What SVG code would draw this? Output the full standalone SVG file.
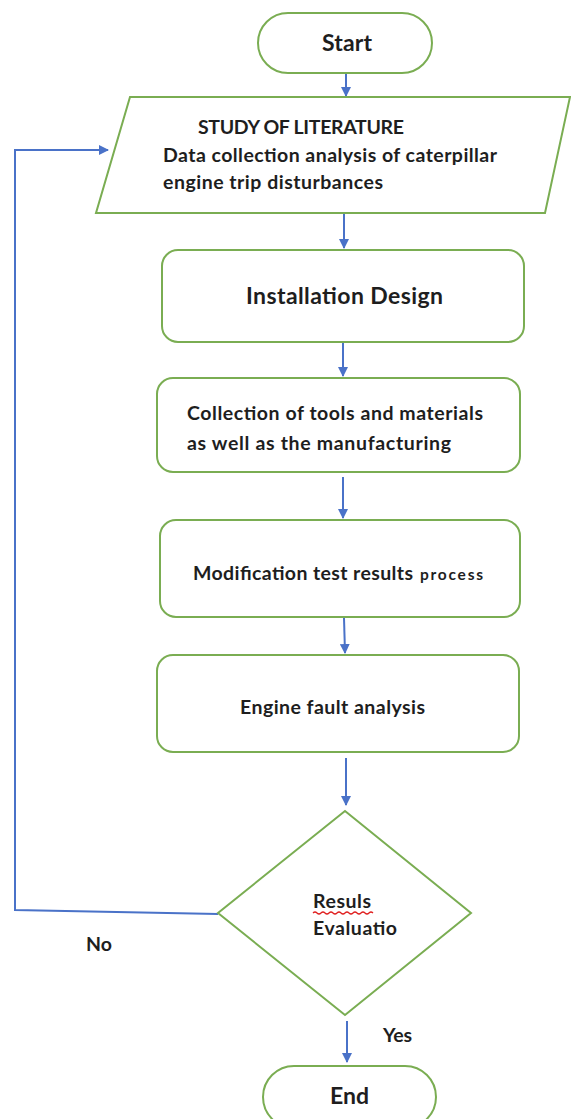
<svg xmlns="http://www.w3.org/2000/svg" width="571" height="1119" viewBox="0 0 571 1119">
<defs>
<style>
.node{fill:#fff;stroke:#7aad52;stroke-width:2}
.conn{fill:none;stroke:#4a72c8;stroke-width:2}
text{font-family:Lato,"Open Sans","Liberation Sans",sans-serif;font-weight:bold;fill:#1e1e1e}
.t15{font-size:19.5px}
.t20{font-size:23px}
</style>
<marker id="a" viewBox="0 0 10 10" refX="9" refY="5" markerWidth="10" markerHeight="10" orient="auto" markerUnits="userSpaceOnUse">
<path d="M0,0 L10,5 L0,10 z" fill="#4a72c8"/>
</marker>
</defs>
<rect width="571" height="1119" fill="#fff"/>
<g id="connectors">
<line class="conn" x1="346" y1="74" x2="346" y2="96" marker-end="url(#a)"/>
<line class="conn" x1="344" y1="213" x2="344" y2="248" marker-end="url(#a)"/>
<line class="conn" x1="343" y1="343" x2="343" y2="376" marker-end="url(#a)"/>
<line class="conn" x1="343" y1="477" x2="343" y2="518" marker-end="url(#a)"/>
<line class="conn" x1="344" y1="618" x2="345" y2="653" marker-end="url(#a)"/>
<line class="conn" x1="346" y1="758" x2="346" y2="805" marker-end="url(#a)"/>
<line class="conn" x1="347" y1="1021" x2="347" y2="1062" marker-end="url(#a)"/>
<polyline class="conn" points="218,914 15,910 15,150 108,150" marker-end="url(#a)"/>
</g>
<g id="start">
<rect class="node" x="258" y="13" width="174" height="60" rx="30"/>
<text class="t20" x="322" y="51" textLength="50">Start</text>
</g>
<g id="literature">
<polygon class="node" points="130,97 570,97 545,213 96,213"/>
<text class="t15" x="198" y="134" textLength="206">STUDY OF LITERATURE</text>
<text class="t15" x="163" y="162" textLength="334">Data collection analysis of caterpillar</text>
<text class="t15" x="163" y="189" textLength="220">engine trip disturbances</text>
</g>
<g id="installation">
<rect class="node" x="162" y="250" width="362" height="92" rx="16"/>
<text class="t20" x="246" y="304" textLength="197">Installation Design</text>
</g>
<g id="collection">
<rect class="node" x="157" y="378" width="363" height="94" rx="16"/>
<text class="t15" x="187" y="420" textLength="296">Collection of tools and materials</text>
<text class="t15" x="187" y="450" textLength="264">as well as the manufacturing</text>
</g>
<g id="modification">
<rect class="node" x="160" y="520" width="360" height="97" rx="16"/>
<text class="t15" x="193" y="580" textLength="220">Modification test results</text>
<text x="420" y="580" textLength="63" style="font-size:15.5px">process</text>
</g>
<g id="fault">
<rect class="node" x="157" y="655" width="362" height="97" rx="16"/>
<text class="t15" x="240" y="714" textLength="185">Engine fault analysis</text>
</g>
<g id="decision">
<polygon class="node" points="345,811 471,913 345,1015 218,913"/>
<text class="t15" x="313" y="908" textLength="58">Resuls</text>
<path d="M313,913 q2,-2 4,0 t4,0 t4,0 t4,0 t4,0 t4,0 t4,0 t4,0 t4,0 t4,0 t4,0 t4,0 t4,0 t4,0 t4,0" fill="none" stroke="#e02020" stroke-width="1.2"/>
<text class="t15" x="313" y="935" textLength="84">Evaluatio</text>
</g>
<g id="end">
<rect class="node" x="263" y="1066" width="173" height="62" rx="31"/>
<text class="t20" x="330" y="1104" textLength="39">End</text>
</g>
<g id="labels">
<text class="t15" x="86" y="951" textLength="26">No</text>
<text class="t15" x="383" y="1042" textLength="29">Yes</text>
</g>
</svg>
